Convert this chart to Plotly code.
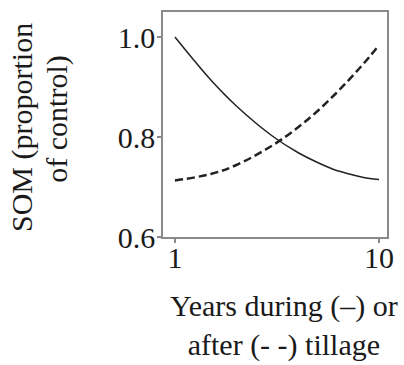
import plotly.graph_objects as go

# Data
years = [1, 1.5, 2, 3, 4, 5, 6, 7, 8, 9, 10]
som_during = [1.000, 0.914, 0.862, 0.802, 0.769, 0.749, 0.735, 0.727, 0.721, 0.717, 0.715]
som_after = [0.713, 0.726, 0.744, 0.783, 0.819, 0.852, 0.883, 0.911, 0.937, 0.961, 0.984]

x_tickvals = [1, 10]
x_ticktext = ["1", "10"]
y_tickvals = [0.6, 0.8, 1.0]
y_ticktext = ["0.6", "0.8", "1.0"]

FONT = "Liberation Serif"
TXT = "#1a1a1a"
AX = "#8a8a8a"
FS = 30

fig = go.Figure()
fig.add_trace(go.Scatter(x=years, y=som_during, mode="lines",
                         line=dict(color="#222222", width=1.5, shape="spline"),
                         showlegend=False))
fig.add_trace(go.Scatter(x=years, y=som_after, mode="lines",
                         line=dict(color="#222222", width=2.5, dash="8px,4px", shape="spline"),
                         showlegend=False))

fig.update_layout(
    width=404, height=365, autosize=False,
    margin=dict(l=163, r=16, t=10, b=128),
    paper_bgcolor="white", plot_bgcolor="white",
    font=dict(family=FONT, color=TXT, size=FS),
    xaxis=dict(type="log", range=[-0.0585, 1.039], tickvals=x_tickvals, ticktext=x_ticktext,
               showline=True, mirror=True, linecolor=AX, linewidth=1.5,
               ticks="outside", ticklen=4, tickcolor=AX, tickwidth=1.5, ticklabelstandoff=-11,
               showgrid=False, zeroline=False, tickfont=dict(size=FS, family=FONT, color=TXT)),
    yaxis=dict(range=[0.6, 1.05], tickvals=y_tickvals, ticktext=y_ticktext,
               showline=True, mirror=True, linecolor=AX, linewidth=1.5,
               ticks="outside", ticklen=4, tickcolor=AX, tickwidth=1.5, ticklabelstandoff=-4,
               showgrid=False, zeroline=False, tickfont=dict(size=FS, family=FONT, color=TXT)),
)

ann = dict(xref="paper", yref="paper", showarrow=False, font=dict(family=FONT, size=FS, color=TXT))
fig.add_annotation(text="Years during (–) or<br>after (- -) tillage", x=0.542, y=-0.392,
                   xanchor="center", yanchor="middle", **ann)
fig.add_annotation(text="SOM (proportion", x=-0.627, y=0.487, textangle=-90, xanchor="center", yanchor="middle", **ann)
fig.add_annotation(text="of control)", x=-0.475, y=0.524, textangle=-90, xanchor="center", yanchor="middle", **ann)

fig.write_html("out.html")
